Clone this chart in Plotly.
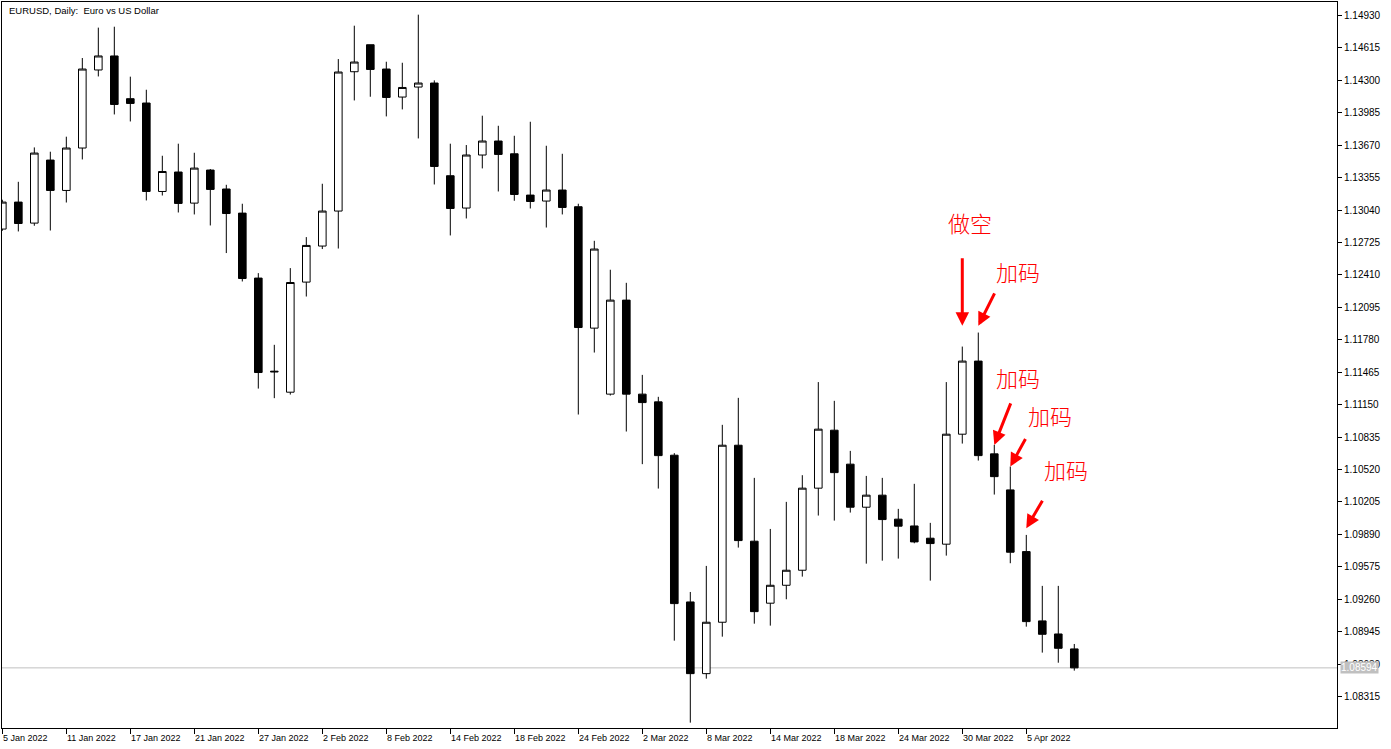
import datetime
import plotly.graph_objects as go

# ---------------- data (EURUSD daily) ----------------
dates = [
    "2022-01-05", "2022-01-06", "2022-01-07", "2022-01-10", "2022-01-11", "2022-01-12",
    "2022-01-13", "2022-01-14", "2022-01-17", "2022-01-18", "2022-01-19", "2022-01-20",
    "2022-01-21", "2022-01-24", "2022-01-25", "2022-01-26", "2022-01-27", "2022-01-28",
    "2022-01-31", "2022-02-01", "2022-02-02", "2022-02-03", "2022-02-04", "2022-02-07",
    "2022-02-08", "2022-02-09", "2022-02-10", "2022-02-11", "2022-02-14", "2022-02-15",
    "2022-02-16", "2022-02-17", "2022-02-18", "2022-02-21", "2022-02-22", "2022-02-23",
    "2022-02-24", "2022-02-25", "2022-02-28", "2022-03-01", "2022-03-02", "2022-03-03",
    "2022-03-04", "2022-03-07", "2022-03-08", "2022-03-09", "2022-03-10", "2022-03-11",
    "2022-03-14", "2022-03-15", "2022-03-16", "2022-03-17", "2022-03-18", "2022-03-21",
    "2022-03-22", "2022-03-23", "2022-03-24", "2022-03-25", "2022-03-28", "2022-03-29",
    "2022-03-30", "2022-03-31", "2022-04-01", "2022-04-04", "2022-04-05", "2022-04-06",
    "2022-04-07", "2022-04-08",
]

opens = [
    1.12855, 1.13117, 1.12913, 1.13525, 1.13230, 1.13642, 1.14400, 1.14536, 1.14121, 1.14079,
    1.13220, 1.13409, 1.13107, 1.13428, 1.13244, 1.13010, 1.12379, 1.11475, 1.11271, 1.12340,
    1.12690, 1.13030, 1.14383, 1.14645, 1.14409, 1.14137, 1.14234, 1.14273, 1.13373, 1.13059,
    1.13574, 1.13710, 1.13586, 1.13185, 1.13127, 1.13234, 1.13072, 1.11893, 1.11252, 1.12165,
    1.11252, 1.11177, 1.10659, 1.09234, 1.08538, 1.09037, 1.10756, 1.09824, 1.09222, 1.09396,
    1.09542, 1.10339, 1.10902, 1.10572, 1.10154, 1.10271, 1.10038, 1.09972, 1.09853, 1.09795,
    1.10863, 1.11573, 1.10672, 1.10322, 1.09723, 1.09050, 1.08923, 1.08778,
]
highs = [
    1.13140, 1.13314, 1.13648, 1.13606, 1.13752, 1.14516, 1.14811, 1.14820, 1.14335, 1.14208,
    1.13567, 1.13684, 1.13596, 1.13438, 1.13285, 1.13101, 1.12427, 1.11731, 1.12476, 1.12777,
    1.13295, 1.14506, 1.14830, 1.14645, 1.14480, 1.14470, 1.14937, 1.14299, 1.13684, 1.13671,
    1.13956, 1.13858, 1.13761, 1.13897, 1.13664, 1.13586, 1.13101, 1.12741, 1.12460, 1.12333,
    1.11439, 1.11226, 1.10679, 1.09331, 1.09584, 1.10954, 1.11216, 1.10439, 1.09943, 1.10206,
    1.10465, 1.11369, 1.11187, 1.10701, 1.10458, 1.10439, 1.10138, 1.10381, 1.10002, 1.11369,
    1.11714, 1.11850, 1.10759, 1.10549, 1.09885, 1.09390, 1.09390, 1.08826,
]
lows = [
    1.12838, 1.12832, 1.12887, 1.12841, 1.13113, 1.13531, 1.14337, 1.13968, 1.13900, 1.13133,
    1.13181, 1.13016, 1.12997, 1.12890, 1.12622, 1.12346, 1.11306, 1.11213, 1.11248, 1.12200,
    1.12661, 1.12666, 1.14104, 1.14140, 1.13949, 1.14017, 1.13735, 1.13288, 1.12793, 1.12958,
    1.13444, 1.13220, 1.13130, 1.13055, 1.12870, 1.12997, 1.11054, 1.11656, 1.11238, 1.10889,
    1.10572, 1.10335, 1.08858, 1.08062, 1.08489, 1.08897, 1.09762, 1.09023, 1.09004, 1.09260,
    1.09480, 1.10073, 1.10024, 1.10102, 1.09606, 1.09635, 1.09655, 1.09804, 1.09441, 1.09684,
    1.10772, 1.10607, 1.10277, 1.09610, 1.08994, 1.08742, 1.08644, 1.08567,
]
closes = [
    1.13117, 1.12909, 1.13593, 1.13230, 1.13642, 1.14409, 1.14536, 1.14065, 1.14075, 1.13220,
    1.13414, 1.13104, 1.13447, 1.13240, 1.13006, 1.12375, 1.11462, 1.11469, 1.12336, 1.12696,
    1.13030, 1.14380, 1.14477, 1.14405, 1.14133, 1.14230, 1.14273, 1.13463, 1.13055, 1.13574,
    1.13710, 1.13580, 1.13191, 1.13123, 1.13234, 1.13065, 1.11899, 1.12661, 1.12165, 1.11252,
    1.11170, 1.10655, 1.09218, 1.08538, 1.09037, 1.10756, 1.09830, 1.09140, 1.09396, 1.09542,
    1.10339, 1.10912, 1.10490, 1.10154, 1.10271, 1.10034, 1.09970, 1.09817, 1.09801, 1.10863,
    1.11573, 1.10655, 1.10451, 1.09717, 1.09043, 1.08920, 1.08784, 1.08594,
]

price_ticks = [
    1.14930, 1.14615, 1.14300, 1.13985, 1.13670, 1.13355, 1.13040, 1.12725, 1.12410, 1.12095,
    1.11780, 1.11465, 1.11150, 1.10835, 1.10520, 1.10205, 1.09890, 1.09575, 1.09260, 1.08945,
    1.08630, 1.08315,
]
date_label_step = 4
last_price = 1.08594
chart_title = "EURUSD, Daily:\u00a0 Euro vs US Dollar"

# trade annotations: arrows point at (bar, price); labels sit above
arrow_bar = [60, 61, 62, 63, 64]
arrow_price = [1.11915, 1.11915, 1.10759, 1.10549, 1.09950]
arrow_dx = [0, 17, 17, 16, 17]
arrow_dy = [-69, -34, -43, -29, -29]
label_text = ["做空", "加码", "加码", "加码", "加码"]
label_bar = [60.48, 63.5, 63.5, 65.48, 66.5]
label_price = [1.12897, 1.12416, 1.11391, 1.11022, 1.10500]

# ---------------- figure ----------------
x_idx = list(range(len(dates)))

fig = go.Figure()
fig.add_trace(go.Candlestick(
    x=x_idx, open=opens, high=highs, low=lows, close=closes,
    increasing=dict(line=dict(color="black", width=1), fillcolor="white"),
    decreasing=dict(line=dict(color="black", width=1), fillcolor="black"),
    whiskerwidth=0,
    hoverinfo="skip",
    showlegend=False,
))

annotations = []

# date labels (left-aligned at each tick, like MetaTrader)
tick_idx = list(range(0, len(dates), date_label_step))
for i in tick_idx:
    d = datetime.date.fromisoformat(dates[i])
    annotations.append(dict(
        x=i, xref="x", y=0, yref="paper", yanchor="top", xanchor="left",
        text=f"{d.day} {d.strftime('%b %Y')}", showarrow=False,
        font=dict(family="Liberation Sans", size=9, color="black"),
        xshift=-1, yshift=-3,
    ))

# title
annotations.append(dict(
    x=0, xref="paper", y=1, yref="paper", xanchor="left", yanchor="top",
    text=chart_title, showarrow=False, xshift=5, yshift=-1,
    font=dict(family="Liberation Sans", size=9.5, color="black"),
))

# current price label
annotations.append(dict(
    x=1, xref="paper", y=last_price, yref="y", xanchor="left", yanchor="middle",
    text=f"{last_price:.5f}", showarrow=False, xshift=3,
    bgcolor="#c0c0c0", borderpad=0,
    font=dict(family="Liberation Sans", size=10, color="white"),
))

# arrows
for b, p, dx, dy in zip(arrow_bar, arrow_price, arrow_dx, arrow_dy):
    annotations.append(dict(
        x=b, y=p, xref="x", yref="y", text="", showarrow=True,
        ax=dx, ay=dy, arrowhead=2, arrowsize=0.9, arrowwidth=3,
        arrowcolor="#ff0000", standoff=0,
    ))

# labels
for t, b, p in zip(label_text, label_bar, label_price):
    annotations.append(dict(
        x=b, y=p, xref="x", yref="y", text=t, showarrow=False,
        xanchor="center", yanchor="middle", yshift=3,
        font=dict(family="Noto Sans CJK SC", size=22, color="#ff0000", weight=300),
    ))

fig.update_layout(
    width=1391, height=749,
    margin=dict(l=2, r=54, t=2, b=21, pad=0),
    paper_bgcolor="white", plot_bgcolor="white",
    font=dict(family="Liberation Sans", size=10, color="black"),
    showlegend=False,
    hovermode=False,
    annotations=annotations,
    shapes=[dict(
        type="line", xref="paper", x0=0, x1=1, yref="y", y0=last_price, y1=last_price,
        line=dict(color="#c0c0c0", width=1), layer="below",
    )],
    boxgap=0.32,
)

fig.update_xaxes(
    range=[-0.02, 83.42],
    tickmode="array", tickvals=tick_idx, showticklabels=False,
    ticks="outside", ticklen=5, tickwidth=1, tickcolor="black",
    showgrid=False, zeroline=False,
    showline=True, linecolor="black", linewidth=1, mirror=True,
    rangeslider=dict(visible=False), fixedrange=True,
)
fig.update_yaxes(
    range=[1.08010, 1.15060], side="right",
    tickmode="array", tickvals=price_ticks, ticktext=[f"{v:.5f}" for v in price_ticks],
    ticks="outside", ticklen=4, tickwidth=1, tickcolor="black",
    tickfont=dict(family="Liberation Sans", size=10, color="black"),
    showgrid=False, zeroline=False,
    showline=True, linecolor="black", linewidth=1, mirror=True, fixedrange=True,
)

fig.write_html(
    "out.html",
    config={"displayModeBar": False, "staticPlot": True},
    post_script="document.body.style.margin='0';document.body.style.overflow='hidden';",
)
